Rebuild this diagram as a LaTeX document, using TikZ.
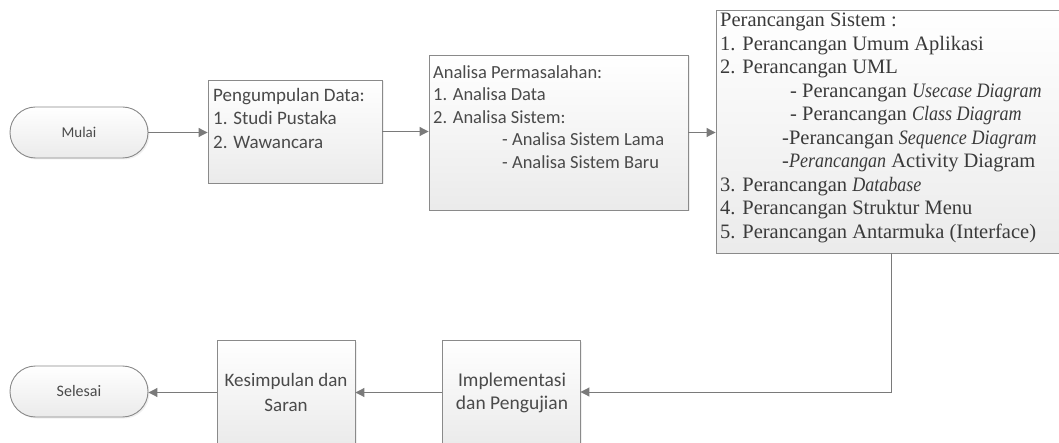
\documentclass[tikz,border=0pt]{standalone}
\usepackage{graphicx}
\usepackage{fontspec}
\setmainfont{Carlito}
\newfontfamily\serifrm{Liberation Serif}
\usetikzlibrary{arrows.meta,shapes.misc,shadows}
\definecolor{linec}{HTML}{7A7A7A}
\definecolor{txtc}{HTML}{4A4A4A}
\definecolor{sertxt}{HTML}{3A3A3A}
\definecolor{bordc}{HTML}{8A8A8A}
\newcommand\myital[1]{\scalebox{0.88}[1]{\serifrm\itshape #1}}
\begin{document}
\begin{tikzpicture}[x=1pt,y=-1pt,
  box/.style={draw=bordc, line width=0.9pt, top color=white, bottom color=black!8,
    drop shadow={opacity=0.12,shadow xshift=1.5pt,shadow yshift=-1.5pt}, inner sep=0pt},
  term/.style={rounded rectangle, draw=bordc, line width=0.9pt, top color=white, bottom color=black!8,
    drop shadow={opacity=0.12,shadow xshift=1.5pt,shadow yshift=-1.5pt},
    minimum width=138pt, minimum height=51pt, inner sep=0pt},
  lbl/.style={text=txtc, inner sep=0pt, align=left, anchor=north west},
  ctr/.style={text=txtc, inner sep=0pt, align=center},
  arr/.style={draw=linec, line width=1pt, -{Triangle[length=9pt,width=9pt]}}]
\fill[white] (0,0) rectangle (1059,443);
\useasboundingbox (0,0) rectangle (1059,443);
\clip (0,0) rectangle (1059,443);

% top row
\node[term] (mulai) at (79,132.5) {};
\node[ctr, font=\fontsize{15}{18}\selectfont] (mulait) at (mulai.center) {Mulai};

\node[box, minimum width=174pt, minimum height=103pt] (pd) at (295,131.5) {};
\node[lbl, font=\fontsize{19}{23.5}\selectfont] (pdt) at (213,88)
  {Pengumpulan Data:\\1. Studi Pustaka\\2. Wawancara};

\node[box, minimum width=259pt, minimum height=155pt] (am) at (558.5,132.5) {};
\node[lbl, font=\fontsize{18.5}{22.5}\selectfont] (amt) at (433,65)
  {Analisa Permasalahan:\\1. Analisa Data\\2. Analisa Sistem:\\
   \hspace*{69pt}- Analisa Sistem Lama\\\hspace*{69pt}- Analisa Sistem Baru};

\node[box, minimum width=359pt, minimum height=243pt] (pr) at (895.5,131.5) {};
\node[lbl, text=sertxt, font=\serifrm\fontsize{20.5}{23.5}\selectfont] (prt) at (720,13)
  {Perancangan Sistem :\\
   1. Perancangan Umum Aplikasi\\
   2. Perancangan UML\\
   \hspace*{70pt}- Perancangan \myital{Usecase Diagram}\\
   \hspace*{70pt}- Perancangan \myital{Class Diagram}\\
   \hspace*{62pt}-Perancangan \myital{Sequence Diagram}\\
   \hspace*{62pt}-\myital{Perancangan} Activity Diagram\\
   3. Perancangan \myital{Database}\\
   4. Perancangan Struktur Menu\\
   5. Perancangan Antarmuka (Interface)};

% bottom row
\node[box, minimum width=138pt, minimum height=105pt] (impl) at (511,392.5) {};
\node[ctr, font=\fontsize{19.5}{23}\selectfont] (implt) at (512,392.5) {Implementasi\\dan Pengujian};

\node[box, minimum width=138pt, minimum height=105pt] (kes) at (286,392.5) {};
\node[ctr, font=\fontsize{19}{25}\selectfont] (kest) at (286,392.5) {Kesimpulan dan\\Saran};

\node[term] (sel) at (79,391.5) {};
\node[ctr, font=\fontsize{16}{19}\selectfont] (selt) at (sel.center) {Selesai};

% connectors
\coordinate (bend) at (891,392);
\draw[arr] (mulai.east) -- (mulai.east -| pd.west);
\draw[arr] (pd.east) -- (pd.east -| am.west);
\draw[arr] (am.east) -- (am.east -| pr.west);
\draw[arr] (pr.south -| bend) -- (bend) -- (bend -| impl.east);
\draw[arr] (impl.west) -- (kes.east);
\draw[arr] (kes.west) -- (kes.west -| sel.east);
\end{tikzpicture}
\end{document}
